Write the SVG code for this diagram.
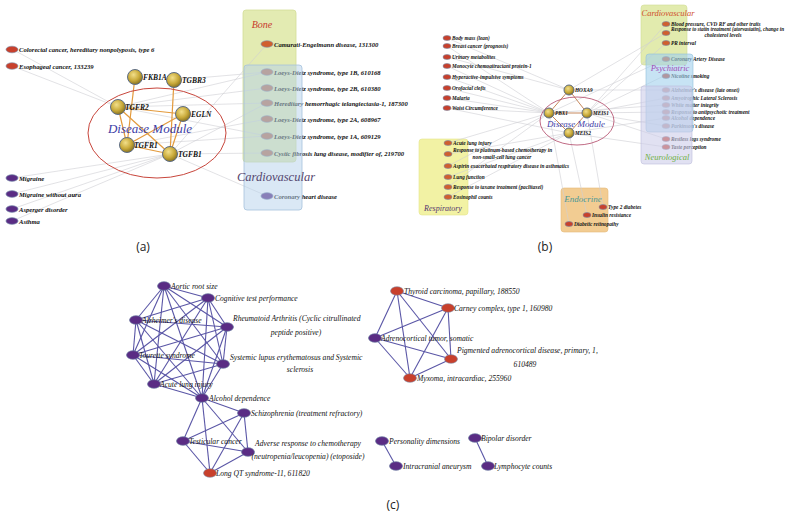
<svg xmlns="http://www.w3.org/2000/svg" width="787" height="517" viewBox="0 0 787 517">
<defs>
<radialGradient id="gold" cx="40%" cy="35%" r="65%">
<stop offset="0" stop-color="#f2df8a"/>
<stop offset="0.6" stop-color="#c9aa3a"/>
<stop offset="1" stop-color="#8a7422"/>
</radialGradient>
<style>
.e{stroke:#cfcfd4;stroke-width:0.6;fill:none}
.g{stroke:#e39a3c;stroke-width:1.2;fill:none}
.gb{stroke:#c07a4a;stroke-width:0.9;fill:none}
.c{stroke:#5a56a6;stroke-width:1.1;fill:none}
.gene{fill:url(#gold);stroke:#5d6d86;stroke-width:1}
.red{fill:#c8402c;stroke:#7a8aa4;stroke-width:0.6}
.org{fill:#d0602e;stroke:#7a8aa4;stroke-width:0.6}
.brn{fill:#b87454;stroke:#7a8aa4;stroke-width:0.6}
.pur{fill:#5a2c84;stroke:#6a7aa0;stroke-width:0.7}
.ta{font-family:"Liberation Serif",serif;font-style:italic;font-weight:bold;font-size:6.6px;fill:#111}
.tg{font-family:"Liberation Serif",serif;font-style:italic;font-weight:bold;font-size:7.5px;fill:#111}
.tb{font-family:"Liberation Serif",serif;font-style:italic;font-weight:bold;font-size:5.3px;fill:#111}
.tc{font-family:"Liberation Serif",serif;font-style:italic;font-size:7.6px;fill:#111}
.cat{font-family:"Liberation Serif",serif;font-style:italic;text-anchor:middle}
.pl{font-family:"Open Sans","Liberation Sans",sans-serif;font-size:12px;fill:#222;text-anchor:middle}
</style>
</defs>
<rect width="787" height="517" fill="#fff"/>

<!-- ================= PANEL A ================= -->
<g id="a-bone-box"><rect x="243" y="10" width="53" height="152" rx="3" fill="#e3ebb2" stroke="#d3dd98" stroke-width="0.8"/></g>

<g id="a-connectors">
<line class="e" x1="12" y1="49" x2="118" y2="107"/>
<line class="e" x1="12" y1="66" x2="118" y2="107"/>
<line class="e" x1="12" y1="178" x2="170" y2="154"/>
<line class="e" x1="12" y1="194" x2="170" y2="154"/>
<line class="e" x1="12" y1="209" x2="170" y2="154"/>
<line class="e" x1="12" y1="221" x2="170" y2="154"/>
<line class="e" x1="267" y1="44" x2="170" y2="154"/>
<line class="e" x1="267" y1="72" x2="118" y2="107"/>
<line class="e" x1="267" y1="72" x2="174" y2="80"/>
<line class="e" x1="267" y1="88" x2="118" y2="107"/>
<line class="e" x1="267" y1="103" x2="170" y2="154"/>
<line class="e" x1="267" y1="103" x2="118" y2="107"/>
<line class="e" x1="267" y1="119" x2="127" y2="145"/>
<line class="e" x1="267" y1="136" x2="127" y2="145"/>
<line class="e" x1="267" y1="136" x2="118" y2="107"/>
<line class="e" x1="267" y1="153" x2="170" y2="154"/>
<line class="e" x1="267" y1="196" x2="170" y2="154"/>
<line class="g" x1="135" y1="77" x2="127" y2="145"/>
<line class="g" x1="174" y1="80" x2="170" y2="154"/>
<line class="g" x1="118" y1="107" x2="183" y2="114"/>
<line class="g" x1="118" y1="107" x2="127" y2="145"/>
<line class="g" x1="183" y1="114" x2="127" y2="145"/>
<line class="g" x1="183" y1="114" x2="170" y2="154"/>
<line class="g" x1="127" y1="145" x2="170" y2="154"/>
<line class="g" x1="118" y1="107" x2="170" y2="154"/>
</g>

<g id="a-module">
<ellipse cx="157" cy="133" rx="69" ry="45" fill="none" stroke="#c8463c" stroke-width="1"/>
<text x="150" y="133" class="cat" font-size="13" fill="#3d3da6">Disease Module</text>
</g>

<g id="a-gene-FKB1A"><circle class="gene" cx="135" cy="77" r="7.5"/><text class="tg" x="143" y="79.5">FKB1A</text></g>
<g id="a-gene-TGBR3"><circle class="gene" cx="174" cy="80" r="7.5"/><text class="tg" x="182" y="82.5">TGBR3</text></g>
<g id="a-gene-TGFR2"><circle class="gene" cx="118" cy="107" r="7.5"/><text class="tg" x="125" y="109.5">TGFR2</text></g>
<g id="a-gene-EGLN"><circle class="gene" cx="183" cy="114" r="7.5"/><text class="tg" x="191" y="116.5">EGLN</text></g>
<g id="a-gene-TGFR1"><circle class="gene" cx="127" cy="145" r="7.5"/><text class="tg" x="134" y="147.5">TGFR1</text></g>
<g id="a-gene-TGFB1"><circle class="gene" cx="170" cy="154" r="7.5"/><text class="tg" x="178" y="156.5">TGFB1</text></g>

<g id="a-colorectal"><ellipse class="red" cx="12" cy="49.5" rx="6" ry="3.3"/><text class="ta" x="19" y="52">Colorectal cancer, hereditary nonpolyposis, type 6</text></g>
<g id="a-esophageal"><ellipse class="red" cx="12" cy="66" rx="6" ry="3.3"/><text class="ta" x="19" y="68.5">Esophageal cancer, 133239</text></g>
<g id="a-migraine"><ellipse class="pur" cx="12" cy="178" rx="6" ry="3.3"/><text class="ta" x="19" y="180.5">Migraine</text></g>
<g id="a-migraine-wo"><ellipse class="pur" cx="12" cy="194" rx="6" ry="3.3"/><text class="ta" x="19" y="196.5">Migraine without aura</text></g>
<g id="a-asperger"><ellipse class="pur" cx="12" cy="209" rx="6" ry="3.3"/><text class="ta" x="19" y="211.5">Asperger disorder</text></g>
<g id="a-asthma"><ellipse class="pur" cx="12" cy="221" rx="6" ry="3.3"/><text class="ta" x="19" y="223.5">Asthma</text></g>

<g id="a-camurati"><ellipse class="org" cx="267" cy="44" rx="6" ry="3.3"/><text class="ta" x="274" y="46.5">Camurati-Engelmann disease, 131300</text></g>
<g id="a-ld1b"><ellipse class="brn" cx="267" cy="72" rx="6" ry="3.3"/><text class="ta" x="274" y="74.5">Loeys-Dietz syndrome, type 1B, 610168</text></g>
<g id="a-ld2b"><ellipse class="brn" cx="267" cy="88" rx="6" ry="3.3"/><text class="ta" x="274" y="90.5">Loeys-Dietz syndrome, type 2B, 610380</text></g>
<g id="a-hht"><ellipse class="brn" cx="267" cy="103" rx="6" ry="3.3"/><text class="ta" x="274" y="105.5">Hereditary hemorrhagic telangiectasia-1, 187300</text></g>
<g id="a-ld2a"><ellipse class="brn" cx="267" cy="119" rx="6" ry="3.3"/><text class="ta" x="274" y="121.5">Loeys-Dietz syndrome, type 2A, 608967</text></g>
<g id="a-ld1a"><ellipse class="brn" cx="267" cy="136" rx="6" ry="3.3"/><text class="ta" x="274" y="138.5">Loeys-Dietz syndrome, type 1A, 609129</text></g>
<g id="a-cf"><ellipse class="brn" cx="267" cy="153" rx="6" ry="3.3"/><text class="ta" x="274" y="155.5">Cystic fibrosis lung disease, modifier of, 219700</text></g>
<g id="a-coronary"><ellipse class="pur" cx="267" cy="196" rx="6" ry="3.3"/><text class="ta" x="274" y="198.5">Coronary heart disease</text></g>

<g id="a-cardio-box"><rect x="244" y="65" width="58" height="145" rx="3" fill="#b6d2ec" fill-opacity="0.5" stroke="#a6c2dc" stroke-width="0.8"/></g>
<text x="262" y="28" class="cat" font-size="10" fill="#c8382c">Bone</text>
<text x="276" y="181" class="cat" font-size="12.5" fill="#54466e">Cardiovascular</text>
<text x="143" y="251" class="pl">(a)</text>

<!-- ================= PANEL B ================= -->
<g id="b-boxes-under">
<rect x="641" y="5" width="46" height="60" rx="3" fill="#e2ebae" stroke="#d2dc96" stroke-width="0.6"/>
<rect x="419" y="139" width="49" height="76" rx="3" fill="#f2f2a4" stroke="#e4e48c" stroke-width="0.6"/>
<rect x="561" y="188" width="47" height="44" rx="3" fill="#f2cc92" stroke="#e4b878" stroke-width="0.6"/>
</g>

<g id="b-connectors">
<line class="e" x1="447" y1="38" x2="569" y2="90"/>
<line class="e" x1="447" y1="46" x2="549" y2="113"/>
<line class="e" x1="447" y1="57" x2="569" y2="90"/>
<line class="e" x1="447" y1="66" x2="549" y2="113"/>
<line class="e" x1="447" y1="77" x2="549" y2="113"/>
<line class="e" x1="447" y1="88" x2="549" y2="113"/>
<line class="e" x1="447" y1="98" x2="549" y2="113"/>
<line class="e" x1="447" y1="108" x2="549" y2="113"/>
<line class="e" x1="447" y1="108" x2="569" y2="133"/>
<line class="e" x1="666" y1="24" x2="587" y2="113"/>
<line class="e" x1="666" y1="33" x2="569" y2="90"/>
<line class="e" x1="666" y1="43" x2="587" y2="113"/>
<line class="e" x1="666" y1="59" x2="549" y2="113"/>
<line class="e" x1="666" y1="75" x2="587" y2="113"/>
<line class="e" x1="666" y1="90" x2="569" y2="90"/>
<line class="e" x1="666" y1="98" x2="587" y2="113"/>
<line class="e" x1="666" y1="105" x2="549" y2="113"/>
<line class="e" x1="666" y1="112" x2="587" y2="113"/>
<line class="e" x1="666" y1="118" x2="569" y2="133"/>
<line class="e" x1="666" y1="126" x2="587" y2="113"/>
<line class="e" x1="666" y1="139" x2="587" y2="113"/>
<line class="e" x1="666" y1="147" x2="569" y2="133"/>
<line class="e" x1="448" y1="143" x2="549" y2="113"/>
<line class="e" x1="448" y1="154" x2="569" y2="133"/>
<line class="e" x1="448" y1="166" x2="549" y2="113"/>
<line class="e" x1="448" y1="177" x2="569" y2="133"/>
<line class="e" x1="448" y1="187" x2="549" y2="113"/>
<line class="e" x1="448" y1="197" x2="569" y2="133"/>
<line class="e" x1="603" y1="207" x2="587" y2="113"/>
<line class="e" x1="587" y1="215" x2="569" y2="133"/>
<line class="e" x1="569" y1="224" x2="549" y2="113"/>
<line class="gb" x1="569" y1="90" x2="549" y2="113"/>
<line class="gb" x1="569" y1="90" x2="587" y2="113"/>
<line class="gb" x1="549" y1="113" x2="587" y2="113"/>
<line class="gb" x1="549" y1="113" x2="569" y2="133"/>
<line class="gb" x1="587" y1="113" x2="569" y2="133"/>
</g>

<g id="b-module">
<ellipse cx="577" cy="121" rx="37" ry="24" fill="none" stroke="#b04464" stroke-width="0.8"/>
<text x="576" y="127" class="cat" font-size="9" fill="#3d3da6">Disease Module</text>
</g>
<g id="b-gene-HOXA9"><circle class="gene" cx="569" cy="90" r="5"/><text class="tb" x="575" y="92">HOXA9</text></g>
<g id="b-gene-PBX1"><circle class="gene" cx="549" cy="113" r="5"/><text class="tb" x="555" y="115">PBX1</text></g>
<g id="b-gene-MEIS1"><circle class="gene" cx="587" cy="113" r="5"/><text class="tb" x="593" y="115">MEIS1</text></g>
<g id="b-gene-MEIS2"><circle class="gene" cx="569" cy="133" r="5"/><text class="tb" x="575" y="135">MEIS2</text></g>

<g id="b-body-mass"><ellipse class="red" cx="447" cy="38" rx="4" ry="2.5"/><text class="tb" x="452" y="40">Body mass (lean)</text></g>
<g id="b-breast"><ellipse class="red" cx="447" cy="46" rx="4" ry="2.5"/><text class="tb" x="452" y="48">Breast cancer (prognosis)</text></g>
<g id="b-urinary"><ellipse class="red" cx="447" cy="57" rx="4" ry="2.5"/><text class="tb" x="452" y="59">Urinary metabolites</text></g>
<g id="b-monocyte"><ellipse class="red" cx="447" cy="66" rx="4" ry="2.5"/><text class="tb" x="452" y="68">Monocyte chemoattractant protein-1</text></g>
<g id="b-hyperactive"><ellipse class="red" cx="447" cy="77" rx="4" ry="2.5"/><text class="tb" x="452" y="79">Hyperactive-impulsive symptoms</text></g>
<g id="b-orofacial"><ellipse class="red" cx="447" cy="88" rx="4" ry="2.5"/><text class="tb" x="452" y="90">Orofacial clefts</text></g>
<g id="b-malaria"><ellipse class="red" cx="447" cy="98" rx="4" ry="2.5"/><text class="tb" x="452" y="100">Malaria</text></g>
<g id="b-waist"><ellipse class="red" cx="447" cy="108" rx="4" ry="2.5"/><text class="tb" x="452" y="110">Waist Circumference</text></g>

<g id="b-bp"><ellipse class="org" cx="666" cy="24" rx="4" ry="2.5"/><text class="tb" x="671" y="26">Blood pressure, CVD RF and other traits</text></g>
<g id="b-statin"><ellipse class="org" cx="666" cy="33" rx="4" ry="2.5"/><text class="tb" x="671" y="30.5" textLength="113" lengthAdjust="spacingAndGlyphs">Response to statin treatment (atorvastatin), change in</text><text class="tb" x="723" y="37" text-anchor="middle">cholesterol levels</text></g>
<g id="b-pr"><ellipse class="org" cx="666" cy="43" rx="4" ry="2.5"/><text class="tb" x="671" y="45">PR interval</text></g>
<g id="b-cad"><ellipse class="org" cx="666" cy="59" rx="4" ry="2.5"/><text class="tb" x="671" y="61">Coronary Artery Disease</text></g>
<g id="b-nicotine"><ellipse class="red" cx="666" cy="76" rx="4" ry="2.5"/><text class="tb" x="671" y="78">Nicotine smoking</text></g>
<g id="b-alz"><ellipse class="red" cx="666" cy="90" rx="4" ry="2.5"/><text class="tb" x="671" y="92">Alzheimer's disease (late onset)</text></g>
<g id="b-als"><ellipse class="red" cx="666" cy="98" rx="4" ry="2.5"/><text class="tb" x="671" y="100">Amyotrophic Lateral Sclerosis</text></g>
<g id="b-white"><ellipse class="red" cx="666" cy="105" rx="4" ry="2.5"/><text class="tb" x="671" y="107">White matter integrity</text></g>
<g id="b-antipsych"><ellipse class="red" cx="666" cy="112" rx="4" ry="2.5"/><text class="tb" x="671" y="114">Response to antipsychotic treatment</text></g>
<g id="b-alcohol"><ellipse class="red" cx="666" cy="118" rx="4" ry="2.5"/><text class="tb" x="671" y="120">Alcohol dependence</text></g>
<g id="b-parkinson"><ellipse class="red" cx="666" cy="126" rx="4" ry="2.5"/><text class="tb" x="671" y="128">Parkinson's disease</text></g>
<g id="b-restless"><ellipse class="red" cx="666" cy="139" rx="4" ry="2.5"/><text class="tb" x="671" y="141">Restless legs syndrome</text></g>
<g id="b-taste"><ellipse class="red" cx="666" cy="147" rx="4" ry="2.5"/><text class="tb" x="671" y="149">Taste perception</text></g>

<g id="b-acute"><ellipse class="org" cx="448" cy="143" rx="4" ry="2.5"/><text class="tb" x="453" y="145">Acute lung injury</text></g>
<g id="b-platinum"><ellipse class="org" cx="448" cy="154" rx="4" ry="2.5"/><text class="tb" x="453" y="152">Response to platinum-based chemotherapy in</text><text class="tb" x="502" y="159" text-anchor="middle">non-small-cell lung cancer</text></g>
<g id="b-aspirin"><ellipse class="org" cx="448" cy="166" rx="4" ry="2.5"/><text class="tb" x="453" y="168">Aspirin exacerbated respiratory disease in asthmatics</text></g>
<g id="b-lung"><ellipse class="org" cx="448" cy="177" rx="4" ry="2.5"/><text class="tb" x="453" y="179">Lung function</text></g>
<g id="b-taxane"><ellipse class="org" cx="448" cy="187" rx="4" ry="2.5"/><text class="tb" x="453" y="189">Response to taxane treatment (paclitaxel)</text></g>
<g id="b-eosinophil"><ellipse class="org" cx="448" cy="197" rx="4" ry="2.5"/><text class="tb" x="453" y="199">Eosinophil counts</text></g>

<g id="b-t2d"><ellipse class="red" cx="603" cy="207" rx="4" ry="2.5"/><text class="tb" x="608" y="209">Type 2 diabetes</text></g>
<g id="b-insulin"><ellipse class="red" cx="587" cy="215" rx="4" ry="2.5"/><text class="tb" x="592" y="217">Insulin resistance</text></g>
<g id="b-retino"><ellipse class="red" cx="569" cy="224" rx="4" ry="2.5"/><text class="tb" x="574" y="226">Diabetic retinopathy</text></g>

<g id="b-boxes-over">
<rect x="646" y="54" width="47" height="78" rx="3" fill="#a2d0ec" fill-opacity="0.6" stroke="#92c0dc" stroke-width="0.6"/>
<rect x="641" y="86" width="51" height="78" rx="3" fill="#cdcdea" fill-opacity="0.6" stroke="#bdbddc" stroke-width="0.6"/>
</g>
<text x="668" y="15.5" class="cat" font-size="8.5" fill="#d0502c">Cardiovascular</text>
<text x="670" y="71" class="cat" font-size="8.5" fill="#a04cb4">Psychiatric</text>
<text x="667" y="160" class="cat" font-size="8.5" fill="#6eb03e">Neurological</text>
<text x="443" y="211" class="cat" font-size="8" fill="#54346e">Respiratory</text>
<text x="583" y="202" class="cat" font-size="9" fill="#4a9898">Endocrine</text>
<text x="545" y="251" class="pl">(b)</text>

<!-- ================= PANEL C ================= -->
<g id="c-connectors">
<line class="c" x1="164" y1="286" x2="208" y2="298"/>
<line class="c" x1="164" y1="286" x2="136" y2="320"/>
<line class="c" x1="164" y1="286" x2="227" y2="327"/>
<line class="c" x1="164" y1="286" x2="133" y2="355"/>
<line class="c" x1="164" y1="286" x2="223" y2="364"/>
<line class="c" x1="164" y1="286" x2="154" y2="384"/>
<line class="c" x1="164" y1="286" x2="202" y2="398"/>
<line class="c" x1="208" y1="298" x2="136" y2="320"/>
<line class="c" x1="208" y1="298" x2="227" y2="327"/>
<line class="c" x1="208" y1="298" x2="133" y2="355"/>
<line class="c" x1="208" y1="298" x2="223" y2="364"/>
<line class="c" x1="208" y1="298" x2="154" y2="384"/>
<line class="c" x1="208" y1="298" x2="202" y2="398"/>
<line class="c" x1="136" y1="320" x2="227" y2="327"/>
<line class="c" x1="136" y1="320" x2="133" y2="355"/>
<line class="c" x1="136" y1="320" x2="223" y2="364"/>
<line class="c" x1="136" y1="320" x2="154" y2="384"/>
<line class="c" x1="136" y1="320" x2="202" y2="398"/>
<line class="c" x1="227" y1="327" x2="133" y2="355"/>
<line class="c" x1="227" y1="327" x2="223" y2="364"/>
<line class="c" x1="227" y1="327" x2="154" y2="384"/>
<line class="c" x1="227" y1="327" x2="202" y2="398"/>
<line class="c" x1="133" y1="355" x2="223" y2="364"/>
<line class="c" x1="133" y1="355" x2="154" y2="384"/>
<line class="c" x1="133" y1="355" x2="202" y2="398"/>
<line class="c" x1="223" y1="364" x2="154" y2="384"/>
<line class="c" x1="223" y1="364" x2="202" y2="398"/>
<line class="c" x1="154" y1="384" x2="202" y2="398"/>
<line class="c" x1="202" y1="398" x2="244" y2="413"/>
<line class="c" x1="202" y1="398" x2="183" y2="441"/>
<line class="c" x1="202" y1="398" x2="248" y2="452"/>
<line class="c" x1="202" y1="398" x2="210" y2="473"/>
<line class="c" x1="244" y1="413" x2="183" y2="441"/>
<line class="c" x1="244" y1="413" x2="248" y2="452"/>
<line class="c" x1="244" y1="413" x2="210" y2="473"/>
<line class="c" x1="183" y1="441" x2="248" y2="452"/>
<line class="c" x1="183" y1="441" x2="210" y2="473"/>
<line class="c" x1="248" y1="452" x2="210" y2="473"/>
<line class="c" x1="397" y1="291" x2="448" y2="308"/>
<line class="c" x1="397" y1="291" x2="375" y2="338"/>
<line class="c" x1="397" y1="291" x2="451" y2="359"/>
<line class="c" x1="397" y1="291" x2="410" y2="378"/>
<line class="c" x1="448" y1="308" x2="375" y2="338"/>
<line class="c" x1="448" y1="308" x2="451" y2="359"/>
<line class="c" x1="448" y1="308" x2="410" y2="378"/>
<line class="c" x1="375" y1="338" x2="451" y2="359"/>
<line class="c" x1="375" y1="338" x2="410" y2="378"/>
<line class="c" x1="451" y1="359" x2="410" y2="378"/>
<line class="c" x1="382" y1="441" x2="396" y2="466"/>
<line class="c" x1="475" y1="438" x2="488" y2="466"/>
</g>

<g id="c-aortic"><ellipse class="pur" cx="164" cy="286" rx="6.5" ry="4.3"/><text class="tc" x="171" y="288.5">Aortic root size</text></g>
<g id="c-cognitive"><ellipse class="pur" cx="208" cy="298" rx="6.5" ry="4.3"/><text class="tc" x="215" y="300.5">Cognitive test performance</text></g>
<g id="c-alzheimer"><ellipse class="pur" cx="136" cy="320" rx="6.5" ry="4.3"/><text class="tc" x="142" y="322.5">Alzheimer's disease</text></g>
<g id="c-rheumatoid"><ellipse class="pur" cx="227" cy="327" rx="6.5" ry="4.3"/><text class="tc" x="233" y="321">Rheumatoid Arthritis (Cyclic citrullinated</text><text class="tc" x="296" y="334.5" text-anchor="middle">peptide positive)</text></g>
<g id="c-tourette"><ellipse class="pur" cx="133" cy="355" rx="6.5" ry="4.3"/><text class="tc" x="139" y="357.5">Tourette syndrome</text></g>
<g id="c-lupus"><ellipse class="pur" cx="223" cy="364" rx="6.5" ry="4.3"/><text class="tc" x="230" y="359.5">Systemic lupus erythematosus and Systemic</text><text class="tc" x="300" y="372" text-anchor="middle">sclerosis</text></g>
<g id="c-acute"><ellipse class="pur" cx="154" cy="384" rx="6.5" ry="4.3"/><text class="tc" x="160" y="386.5">Acute lung injury</text></g>
<g id="c-alcohol"><ellipse class="pur" cx="202" cy="398" rx="6.5" ry="4.3"/><text class="tc" x="209" y="400.5">Alcohol dependence</text></g>
<g id="c-schizo"><ellipse class="pur" cx="244" cy="413" rx="6.5" ry="4.3"/><text class="tc" x="251" y="415.5">Schizophrenia (treatment refractory)</text></g>
<g id="c-testicular"><ellipse class="pur" cx="183" cy="441" rx="6.5" ry="4.3"/><text class="tc" x="189" y="443.5">Testicular cancer</text></g>
<g id="c-adverse"><ellipse class="pur" cx="248" cy="452" rx="6.5" ry="4.3"/><text class="tc" x="308" y="446" text-anchor="middle">Adverse response to chemotherapy</text><text class="tc" x="308" y="459" text-anchor="middle">(neutropenia/leucopenia) (etoposide)</text></g>
<g id="c-longqt"><ellipse class="red" cx="210" cy="473" rx="6.5" ry="4.3"/><text class="tc" x="216" y="475.5">Long QT syndrome-11, 611820</text></g>

<g id="c-thyroid"><ellipse class="red" cx="397" cy="291" rx="6.5" ry="4.3"/><text class="tc" x="404" y="293.5">Thyroid carcinoma, papillary, 188550</text></g>
<g id="c-carney"><ellipse class="red" cx="448" cy="308" rx="6.5" ry="4.3"/><text class="tc" x="454" y="310.5">Carney complex, type 1, 160980</text></g>
<g id="c-adreno"><ellipse class="pur" cx="375" cy="338" rx="6.5" ry="4.3"/><text class="tc" x="381" y="340.5">Adrenocortical tumor, somatic</text></g>
<g id="c-pigmented"><ellipse class="red" cx="451" cy="359" rx="6.5" ry="4.3"/><text class="tc" x="457" y="353">Pigmented adrenocortical disease, primary, 1,</text><text class="tc" x="525" y="366.5" text-anchor="middle">610489</text></g>
<g id="c-myxoma"><ellipse class="red" cx="410" cy="378" rx="6.5" ry="4.3"/><text class="tc" x="417" y="380.5">Myxoma, intracardiac, 255960</text></g>
<g id="c-personality"><ellipse class="pur" cx="382" cy="441" rx="6.5" ry="4.3"/><text class="tc" x="389" y="443.5">Personality dimensions</text></g>
<g id="c-intracranial"><ellipse class="pur" cx="396" cy="466" rx="6.5" ry="4.3"/><text class="tc" x="403" y="468.5">Intracranial aneurysm</text></g>
<g id="c-bipolar"><ellipse class="pur" cx="475" cy="438" rx="6.5" ry="4.3"/><text class="tc" x="481" y="440.5">Bipolar disorder</text></g>
<g id="c-lymphocyte"><ellipse class="pur" cx="488" cy="466" rx="6.5" ry="4.3"/><text class="tc" x="494" y="468.5">Lymphocyte counts</text></g>
<text x="393" y="509" class="pl">(c)</text>
</svg>
